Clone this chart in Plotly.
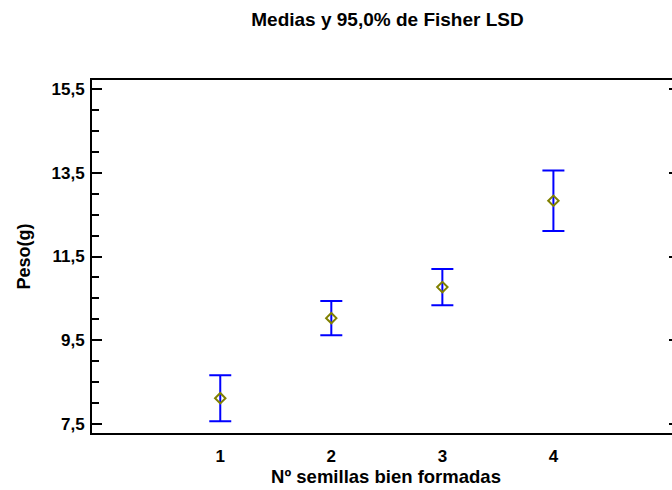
import plotly.graph_objects as go

# Data
groups = [1, 2, 3, 4]
means = [8.12, 10.03, 10.77, 12.83]
half_lsd = [0.55, 0.41, 0.43, 0.72]
x_ticks = [1, 2, 3, 4]
x_ticktext = ["1", "2", "3", "4"]
y_ticks = [7.5, 9.5, 11.5, 13.5, 15.5]

FONT = "Liberation Sans, Arial, sans-serif"
W, H = 680, 490  # right edge of the frame lies just past the 672px window

fig = go.Figure()
fig.add_trace(go.Scatter(
    x=groups, y=means, mode="markers",
    marker=dict(symbol="diamond-open", size=8, color="#808000",
                line=dict(width=2, color="#808000")),
    error_y=dict(type="data", array=half_lsd, symmetric=True,
                 color="#0000FF", thickness=2, width=11),
    showlegend=False, hoverinfo="x+y",
))
# invisible trace to carry right-side ticks
fig.add_trace(go.Scatter(x=[groups[0]], y=[means[0]], yaxis="y2",
                         mode="markers", marker=dict(opacity=0),
                         showlegend=False, hoverinfo="skip"))

fig.update_layout(
    width=W, height=H,
    margin=dict(l=92, r=0, t=80, b=57, autoexpand=False),
    paper_bgcolor="white", plot_bgcolor="white",
    separators=",.",
    title=dict(text="Medias y 95,0% de Fisher LSD", x=387.5 / W, xanchor="center",
               xref="container", yref="container",
               y=1 - 19.5 / H, yanchor="middle",
               font=dict(family=FONT, size=19, color="black", weight="bold")),
    xaxis=dict(
        range=[-0.155, 5.14], tickvals=x_ticks, ticktext=x_ticktext,
        showgrid=False, zeroline=False, showline=True, mirror=True,
        linecolor="black", linewidth=2, ticks="", ticklabelstandoff=7,
        tickfont=dict(family=FONT, size=17, color="black", weight="bold"),
        title=dict(text="Nº semillas bien formadas", standoff=4,
                   font=dict(family=FONT, size=18.5, color="black", weight="bold")),
    ),
    yaxis=dict(
        range=[7.29, 15.71], tickvals=y_ticks, tickformat=".1f",
        showgrid=False, zeroline=False, showline=True, mirror=False,
        linecolor="black", linewidth=2, ticks="inside", ticklen=10,
        tickwidth=2, tickcolor="black", ticklabelstandoff=2,
        minor=dict(dtick=0.5, tick0=7.5, ticks="inside", ticklen=7,
                   tickwidth=2, tickcolor="black", showgrid=False),
        tickfont=dict(family=FONT, size=17, color="black", weight="bold"),
        title=dict(text="Peso(g)", standoff=16,
                   font=dict(family=FONT, size=18, color="black", weight="bold")),
    ),
    yaxis2=dict(
        range=[7.29, 15.71], overlaying="y", side="right",
        tickvals=y_ticks, showticklabels=False, showgrid=False,
        zeroline=False, showline=False, ticks="inside", ticklen=11,
        tickwidth=2, tickcolor="black",
    ),
)

fig.write_html(
    "out.html",
    config={"displayModeBar": False},
    post_script="document.body.style.margin='0';document.body.style.overflow='hidden';",
)
